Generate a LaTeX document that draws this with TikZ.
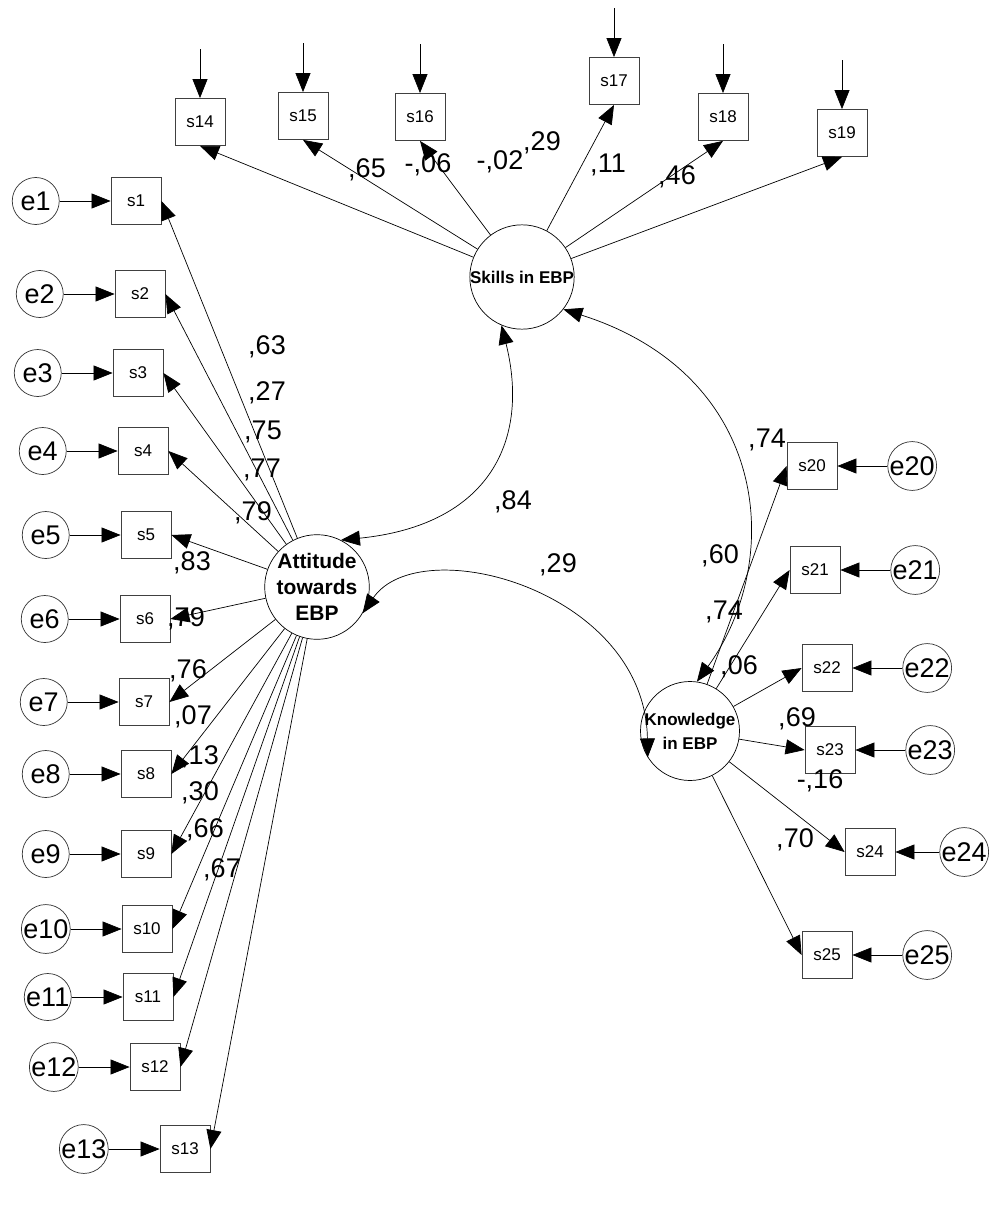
\documentclass[tikz,border=0pt]{standalone}
\usepackage{fontspec}
\setmainfont{Liberation Sans}
\usetikzlibrary{arrows.meta,positioning}

\begin{document}
\begin{tikzpicture}[x=1pt,y=-1pt,
	obs/.style={rectangle,draw=black!75,line width=0.8pt,minimum width=50pt,minimum height=47pt,inner sep=0pt,font=\fontsize{17}{20}\selectfont},
	err/.style={circle,draw=black!80,line width=0.7pt,minimum size=47pt,inner sep=0pt,font=\fontsize{27}{30}\selectfont},
	lat/.style={circle,draw,line width=0.7pt,minimum size=99pt,inner sep=0pt,align=center,font=\bfseries\fontsize{17}{24}\selectfont},
	load/.style={-{Triangle[length=19pt,width=15pt]},line width=0.7pt},
	cov/.style={{Triangle[length=19pt,width=15pt]}-{Triangle[length=19pt,width=15pt]},line width=0.7pt},
	coef/.style={font=\fontsize{27}{30}\selectfont,inner sep=0pt}]
	\useasboundingbox (0,0) rectangle (989,1206);

	% latent variables
	\node[lat] (Skills) at (522,277) {Skills in EBP};
	\node[lat,font=\bfseries\fontsize{21}{26}\selectfont] (Attitude) at (317,587) {Attitude\\towards\\EBP};
	\node[lat] (Knowledge) at (690,731) {Knowledge\\in EBP};

	% attitude items
	\node[obs] (s1) at (136,201) {s1};
	\node[obs] (s2) at (140,294) {s2};
	\node[obs] (s3) at (138,373) {s3};
	\node[obs] (s4) at (143,451) {s4};
	\node[obs] (s5) at (146,535) {s5};
	\node[obs] (s6) at (145,619) {s6};
	\node[obs] (s7) at (144,702) {s7};
	\node[obs] (s8) at (146,774) {s8};
	\node[obs] (s9) at (146,854) {s9};
	\node[obs] (s10) at (147,929) {s10};
	\node[obs] (s11) at (148,997) {s11};
	\node[obs] (s12) at (155,1067) {s12};
	\node[obs] (s13) at (185,1149) {s13};

	\node[err,left=51pt of s1] (e1) {e1};
	\node[err,left=51pt of s2] (e2) {e2};
	\node[err,left=51pt of s3] (e3) {e3};
	\node[err,left=51pt of s4] (e4) {e4};
	\node[err,left=51pt of s5] (e5) {e5};
	\node[err,left=51pt of s6] (e6) {e6};
	\node[err,left=51pt of s7] (e7) {e7};
	\node[err,left=51pt of s8] (e8) {e8};
	\node[err,left=51pt of s9] (e9) {e9};
	\node[err,left=51pt of s10] (e10) {e10};
	\node[err,left=51pt of s11] (e11) {e11};
	\node[err,left=51pt of s12] (e12) {e12};
	\node[err,left=51pt of s13] (e13) {e13};

	% skills items
	\node[obs] (s14) at (200,122) {s14};
	\node[obs] (s15) at (303,116) {s15};
	\node[obs] (s16) at (420,117) {s16};
	\node[obs] (s17) at (614,81) {s17};
	\node[obs] (s18) at (723,117) {s18};
	\node[obs] (s19) at (842,133) {s19};

	\coordinate[above=49pt of s14] (u14);
	\coordinate[above=49pt of s15] (u15);
	\coordinate[above=49pt of s16] (u16);
	\coordinate[above=49pt of s17] (u17);
	\coordinate[above=49pt of s18] (u18);
	\coordinate[above=49pt of s19] (u19);

	% knowledge items
	\node[obs] (s20) at (812,466) {s20};
	\node[obs] (s21) at (815,570) {s21};
	\node[obs] (s22) at (827,668) {s22};
	\node[obs] (s23) at (830,750) {s23};
	\node[obs] (s24) at (870,852) {s24};
	\node[obs] (s25) at (827,955) {s25};

	\node[err,right=50pt of s20] (e20) {e20};
	\node[err,right=50pt of s21] (e21) {e21};
	\node[err,right=50pt of s22] (e22) {e22};
	\node[err,right=50pt of s23] (e23) {e23};
	\node[err,right=44pt of s24] (e24) {e24};
	\node[err,right=50pt of s25] (e25) {e25};

	% error terms
	\draw[load] (e1) -- (s1);
	\draw[load] (e2) -- (s2);
	\draw[load] (e3) -- (s3);
	\draw[load] (e4) -- (s4);
	\draw[load] (e5) -- (s5);
	\draw[load] (e6) -- (s6);
	\draw[load] (e7) -- (s7);
	\draw[load] (e8) -- (s8);
	\draw[load] (e9) -- (s9);
	\draw[load] (e10) -- (s10);
	\draw[load] (e11) -- (s11);
	\draw[load] (e12) -- (s12);
	\draw[load] (e13) -- (s13);
	\draw[load] (u14) -- (s14);
	\draw[load] (u15) -- (s15);
	\draw[load] (u16) -- (s16);
	\draw[load] (u17) -- (s17);
	\draw[load] (u18) -- (s18);
	\draw[load] (u19) -- (s19);
	\draw[load] (e20) -- (s20);
	\draw[load] (e21) -- (s21);
	\draw[load] (e22) -- (s22);
	\draw[load] (e23) -- (s23);
	\draw[load] (e24) -- (s24);
	\draw[load] (e25) -- (s25);

	% loadings
	\draw[load] (Attitude) -- (s1.east);
	\draw[load] (Attitude) -- (s2.east);
	\draw[load] (Attitude) -- (s3.east);
	\draw[load] (Attitude) -- (s4.east);
	\draw[load] (Attitude) -- (s5.east);
	\draw[load] (Attitude) -- (s6.east);
	\draw[load] (Attitude) -- (s7.east);
	\draw[load] (Attitude) -- (s8.east);
	\draw[load] (Attitude) -- (s9.east);
	\draw[load] (Attitude) -- (s10.east);
	\draw[load] (Attitude) -- (s11.east);
	\draw[load] (Attitude) -- (s12.east);
	\draw[load] (Attitude) -- (s13.east);
	\draw[load] (Skills) -- (s14.south);
	\draw[load] (Skills) -- (s15.south);
	\draw[load] (Skills) -- (s16.south);
	\draw[load] (Skills) -- (s17.south);
	\draw[load] (Skills) -- (s18.south);
	\draw[load] (Skills) -- (s19.south);
	\draw[load] (Knowledge) -- (s20.west);
	\draw[load] (Knowledge) -- (s21.west);
	\draw[load] (Knowledge) -- (s22.west);
	\draw[load] (Knowledge) -- (s23.west);
	\draw[load] (Knowledge) -- (s24.west);
	\draw[load] (Knowledge) -- (s25.west);

	% correlations
	\draw[cov] (Attitude.63) .. controls (490,525) and (530,440) .. (Skills.247);
	\draw[cov] (Attitude.-30) .. controls (420,530) and (645,590) .. (Knowledge.212);
	\draw[cov] (Skills.-38) .. controls (770,375) and (785,560) .. (Knowledge.82);

	% coefficients
	\begin{scope}[nodes=coef]
		\node (l14) at (367,170) {,65};
		\node (l15) at (428,165) {-,06};
		\node (l16) at (500,162) {-,02};
		\node (l17) at (542,143) {,29};
		\node (l18) at (608,165) {,11};
		\node (l19) at (677,177) {,46};
		\node (l1) at (267,347) {,63};
		\node (l2) at (267,393) {,27};
		\node (l3) at (263,432) {,75};
		\node (l4) at (262,470) {,77};
		\node (l5) at (253,513) {,79};
		\node (l6) at (192,563) {,83};
		\node (l7) at (186,619) {,79};
		\node (l8) at (188,671) {,76};
		\node (l9) at (193,717) {,07};
		\node (l10) at (200,757) {,13};
		\node (l11) at (200,793) {,30};
		\node (l12) at (205,830) {,66};
		\node (l13) at (222,870) {,67};
		\node (r84) at (513,502) {,84};
		\node (r29) at (558,565) {,29};
		\node (r60) at (720,556) {,60};
		\node (l20) at (767,440) {,74};
		\node (l21) at (724,612) {,74};
		\node (l22) at (739,667) {,06};
		\node (l23) at (797,719) {,69};
		\node (l24) at (820,781) {-,16};
		\node (l25) at (795,840) {,70};
	\end{scope}
\end{tikzpicture}
\end{document}
